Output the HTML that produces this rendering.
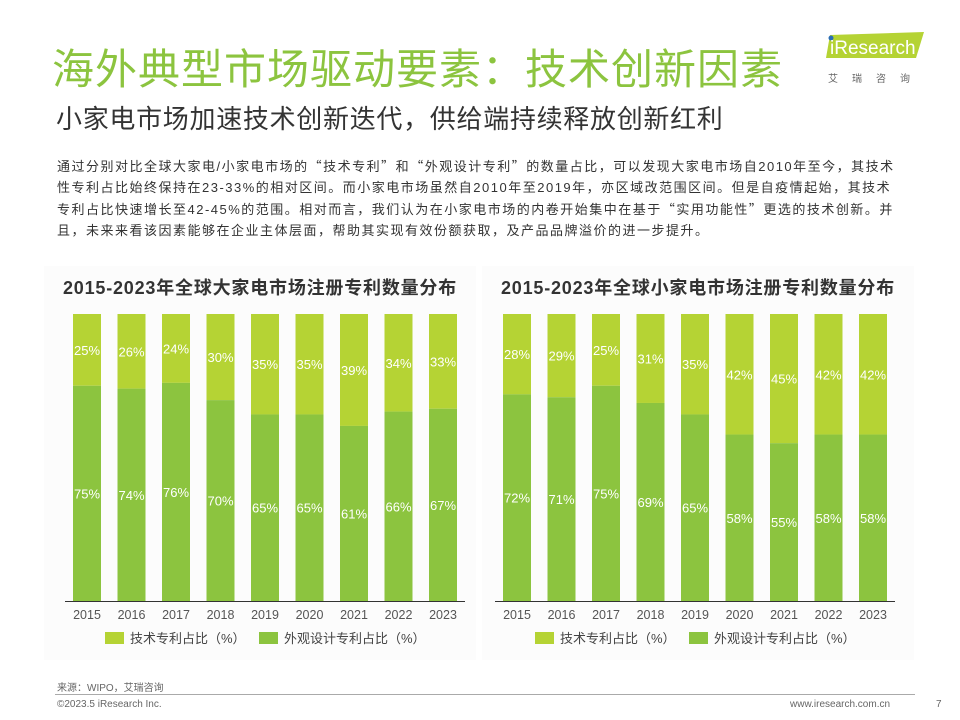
<!DOCTYPE html>
<html><head><meta charset="utf-8"><style>
body{margin:0;width:960px;height:720px;background:#fff;font-family:"Liberation Sans","Noto Sans CJK SC",sans-serif;position:relative;overflow:hidden}
.abs{position:absolute}
.q{font-family:"Noto Sans CJK SC",sans-serif}
.ln{white-space:nowrap;height:21.7px}
</style></head><body>
<div class="abs" style="left:52px;top:36px;font-size:42px;color:#8cc43f;letter-spacing:1px;white-space:nowrap">海外典型市场驱动要素：技术创新因素</div>
<div class="abs" style="left:56px;top:99px;font-size:26px;color:#333;letter-spacing:0.7px;white-space:nowrap">小家电市场加速技术创新迭代，供给端持续释放创新红利</div>
<div class="abs" style="left:826px;top:32px;width:98px;height:28px">
<svg width="98" height="28"><polygon points="4,3 98,0 90,26 0,26" fill="#b5d334"/><circle cx="5" cy="6" r="2.5" fill="#2a6db5"/><text x="4" y="22" font-size="19" fill="#fff" font-family="Liberation Sans">iResearch</text></svg></div>
<div class="abs" style="left:828px;top:70px;font-size:10px;color:#666;letter-spacing:14px">艾瑞咨询</div>
<div class="abs" style="left:57px;top:155px;font-size:13px;line-height:21.7px;color:#333;letter-spacing:1.5px">
<div class="ln">通过分别对比全球大家电/小家电市场的<span class="q">“</span>技术专利<span class="q">”</span>和<span class="q">“</span>外观设计专利<span class="q">”</span>的数量占比，可以发现大家电市场自2010年至今，其技术</div>
<div class="ln">性专利占比始终保持在23-33%的相对区间。而小家电市场虽然自2010年至2019年，亦区域改范围区间。但是自疫情起始，其技术</div>
<div class="ln">专利占比快速增长至42-45%的范围。相对而言，我们认为在小家电市场的内卷开始集中在基于<span class="q">“</span>实用功能性<span class="q">”</span>更选的技术创新。并</div>
<div class="ln">且，未来来看该因素能够在企业主体层面，帮助其实现有效份额获取，及产品品牌溢价的进一步提升。</div>
</div>
<div class="abs" style="left:44px;top:266px;width:432px;height:394px;background:#fcfcfc"></div>
<div class="abs" style="left:482px;top:266px;width:432px;height:394px;background:#fcfcfc"></div>
<div class="abs" style="left:40px;top:274px;width:440px;text-align:center;font-size:18px;font-weight:bold;color:#333;letter-spacing:0.8px;white-space:nowrap">2015-2023年全球大家电市场注册专利数量分布</div>
<div class="abs" style="left:478px;top:274px;width:440px;text-align:center;font-size:18px;font-weight:bold;color:#333;letter-spacing:0.8px;white-space:nowrap">2015-2023年全球小家电市场注册专利数量分布</div>
<svg id="chart" class="abs" style="left:0;top:0" width="960" height="720"></svg>
<div class="abs" style="left:57px;top:679px;font-size:10px;color:#666">来源：WIPO，艾瑞咨询</div>
<div class="abs" style="left:55px;top:694px;width:860px;height:1px;background:#aaa"></div>
<div class="abs" style="left:57px;top:699px;font-size:10px;color:#666">©2023.5 iResearch Inc.</div>
<div class="abs" style="left:790px;top:699px;font-size:10px;color:#666">www.iresearch.com.cn</div>
<div class="abs" style="left:936px;top:699px;font-size:10px;color:#666">7</div>
<script>
const years=["2015","2016","2017","2018","2019","2020","2021","2022","2023"];
const bigTech=[25,26,24,30,35,35,39,34,33];
const bigDesign=[75,74,76,70,65,65,61,66,67];
const smallTech=[28,29,25,31,35,42,45,42,42];
const smallDesign=[72,71,75,69,65,58,55,58,58];
const NS="http://www.w3.org/2000/svg";
const svg=document.getElementById('chart');
const LIGHT="#b5d334",DARK="#8cc43f";
function mk(t,a,txt){const e=document.createElementNS(NS,t);for(const k in a)e.setAttribute(k,a[k]);if(txt!==undefined)e.textContent=txt;svg.appendChild(e);return e;}
function draw(x0,tech,design,key){
  const top=314,bot=601,H=bot-top,step=44.5,bw=28;
  const xs=i=>x0+i*step;
  const ys=v=>H*v/100;
  years.forEach((y,i)=>{
    const tot=tech[i]+design[i];
    const th=ys(tech[i]*100/tot);
    const r1=mk('rect',{x:xs(i),y:top,width:bw,height:th,fill:LIGHT});
    
    
    const r2=mk('rect',{x:xs(i),y:top+th,width:bw,height:H-th,fill:DARK});
    
    
    const t1=mk('text',{x:xs(i)+bw/2,y:top+th/2+5,'text-anchor':'middle','font-size':13,fill:'#fff'},tech[i]+'%');
    
    
    const t2=mk('text',{x:xs(i)+bw/2,y:top+th+(H-th)/2+5,'text-anchor':'middle','font-size':13,fill:'#fff'},design[i]+'%');
    
    
    const tl=mk('text',{x:xs(i)+bw/2,y:619,'text-anchor':'middle','font-size':12.5,fill:'#555'},y);
    
    
  });
  const ax=mk('line',{x1:x0-8,x2:xs(8)+bw+8,y1:bot+0.5,y2:bot+0.5,stroke:'#333','stroke-width':1});
  
  
  const lx=x0+32;
  const l1=mk('rect',{x:lx,y:632,width:19,height:12,fill:LIGHT});
  
  
  const lt1=mk('text',{x:lx+25,y:643,'font-size':13,fill:'#444'},'技术专利占比（%）');
  
  
  const l2=mk('rect',{x:lx+154,y:632,width:19,height:12,fill:DARK});
  
  
  const lt2=mk('text',{x:lx+179,y:643,'font-size':13,fill:'#444'},'外观设计专利占比（%）');
  
  
}
draw(73,bigTech,bigDesign,'large');
draw(503,smallTech,smallDesign,'small');
</script>
</body></html>
